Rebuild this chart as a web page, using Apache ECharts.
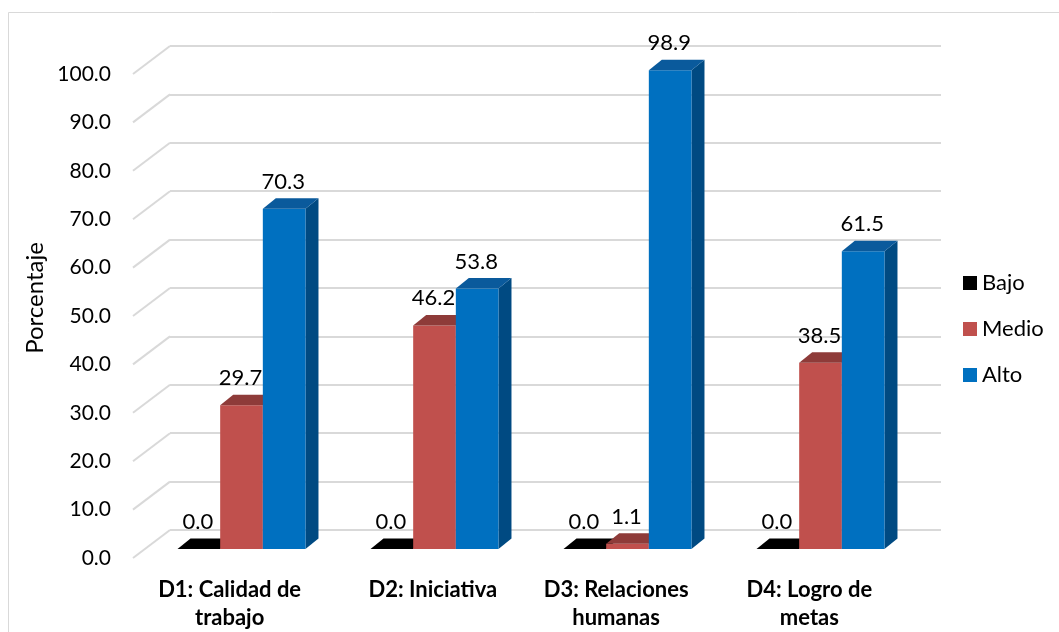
<!DOCTYPE html>
<html><head><meta charset="utf-8">
<script src="https://cdn.jsdelivr.net/npm/echarts@6/dist/echarts.min.js"></script>
<style>html,body{margin:0;padding:0;background:#fff}#c{width:1059px;height:632px}</style>
</head><body><div id="c"></div>
<script>
// ---- data ----
const categories = ['D1: Calidad de\ntrabajo', 'D2: Iniciativa', 'D3: Relaciones\nhumanas', 'D4: Logro de\nmetas'];
const seriesNames = ['Bajo', 'Medio', 'Alto'];
const bajo = [0.0, 0.0, 0.0, 0.0];
const medio = [29.7, 46.2, 1.1, 38.5];
const alto = [70.3, 53.8, 98.9, 61.5];
const yTicks = [0, 10, 20, 30, 40, 50, 60, 70, 80, 90, 100];
const yAxisTitle = 'Porcentaje';

// ---- styles ----
const FONT = 'Lato';
const palette = [
  { front: '#000000', top: '#000000', side: '#000000' },
  { front: '#c0504d', top: '#8e3b39', side: '#8a3735' },
  { front: '#0070c0', top: '#0a5a9c', side: '#004a82' }
];
const DX = 13, DY = -10.5;      // depth of the bars
const WDX = 37, WDY = -28;      // depth of the floor/wall
const BW_FRAC = 0.221;

function bar3D(idx, name, values) {
  const cols = palette[idx];
  return {
    type: 'custom', name: name, xAxisIndex: 2, yAxisIndex: 2,
    itemStyle: { color: cols.front },
    data: values.map((v, i) => [i, v]),
    encode: { x: 0, y: 1 },
    renderItem: function (params, api) {
      const ci = api.value(0), v = api.value(1);
      const top = api.coord([ci, v]);
      const base = api.coord([ci, 0]);
      const band = api.size([1, 0])[0];
      const bw = band * BW_FRAC;
      const x0 = top[0] + (idx - 1) * bw - bw / 2, x1 = x0 + bw;
      const yt = top[1], yb = base[1];
      return {
        type: 'group', children: [
          { type: 'polygon', shape: { points: [[x1, yt], [x1 + DX, yt + DY], [x1 + DX, yb + DY], [x1, yb]] }, style: { fill: cols.side } },
          { type: 'rect', shape: { x: x0, y: yt, width: bw, height: yb - yt }, style: { fill: cols.front } },
          { type: 'polygon', shape: { points: [[x0, yt], [x1, yt], [x1 + DX, yt + DY], [x0 + DX, yt + DY]] }, style: { fill: cols.top } },
          { type: 'text', z2: 100, style: { text: v.toFixed(1), x: (x0 + x1) / 2 - 1, y: yt - 27, align: 'center', verticalAlign: 'middle', fontFamily: FONT, fontSize: 22, fill: '#000' } }
        ]
      };
    }
  };
}

const chart = echarts.init(document.getElementById('c'), null, { renderer: 'canvas' });
chart.setOption({
  animation: false,
  backgroundColor: '#fff',
  graphic: [{ type: 'rect', shape: { x: 8.5, y: 12.5, width: 1200, height: 800 }, style: { fill: 'none', stroke: '#d9d9d9', lineWidth: 1 }, silent: true }],
  grid: [
    { left: 170, right: 118, top: 46, bottom: 102 },   // back wall
    { left: 133, right: 153, top: 74, bottom: 74 },    // front edge (labels)
    { left: 145, right: 142, top: 65, bottom: 83 }     // bars
  ],
  xAxis: [
    { gridIndex: 0, type: 'category', data: categories, show: false },
    { gridIndex: 1, type: 'category', data: categories,
      axisLine: { show: false }, axisTick: { show: false },
      axisLabel: { margin: 18, fontFamily: FONT, fontWeight: 'bold', fontSize: 22, color: '#000', lineHeight: 28, interval: 0,
        formatter: function (v, i) { return i === 1 ? '{s|' + v + '}' : v; },
        rich: { s: { fontFamily: FONT, fontWeight: 'bold', fontSize: 22, color: '#000', lineHeight: 28, padding: [0, 0, 0, 20] } } } },
    { gridIndex: 2, type: 'category', data: categories, show: false }
  ],
  yAxis: [
    { gridIndex: 0, type: 'value', min: 0, max: 100, interval: 10,
      axisLine: { show: false }, axisTick: { show: false }, axisLabel: { show: false },
      splitLine: { show: true, lineStyle: { color: '#d9d9d9', width: 2 } } },
    { gridIndex: 1, type: 'value', min: 0, max: 100, interval: 10,
      axisLine: { show: false }, axisTick: { show: false }, splitLine: { show: false },
      axisLabel: { margin: 22, fontFamily: FONT, fontSize: 21, color: '#000', formatter: v => v.toFixed(1) } },
    { gridIndex: 2, type: 'value', min: 0, max: 100, interval: 10,
      axisLine: { show: false }, axisTick: { show: false }, splitLine: { show: false }, axisLabel: { show: false },
      name: yAxisTitle, nameLocation: 'middle', nameRotate: 90, nameGap: 98,
      nameTextStyle: { fontFamily: FONT, fontSize: 24, color: '#000', padding: [0, 0, 0, 18] } }
  ],
  legend: {
    data: seriesNames, orient: 'vertical', left: 958, top: 267,
    itemWidth: 14, itemHeight: 14, itemGap: 24, icon: 'rect',
    textStyle: { fontFamily: FONT, fontSize: 22, color: '#000' }
  },
  series: [
    { type: 'custom', xAxisIndex: 1, yAxisIndex: 1, silent: true,
      data: yTicks.map(v => [0, v]), encode: { x: 0, y: 1 },
      renderItem: function (params, api) {
        const p = api.coord([0, api.value(1)]);
        const x = params.coordSys.x;
        return { type: 'line', shape: { x1: x, y1: p[1], x2: x + WDX, y2: p[1] + WDY }, style: { stroke: '#d9d9d9', lineWidth: 2 } };
      } },
    bar3D(0, seriesNames[0], bajo),
    bar3D(1, seriesNames[1], medio),
    bar3D(2, seriesNames[2], alto)
  ]
});
</script></body></html>
